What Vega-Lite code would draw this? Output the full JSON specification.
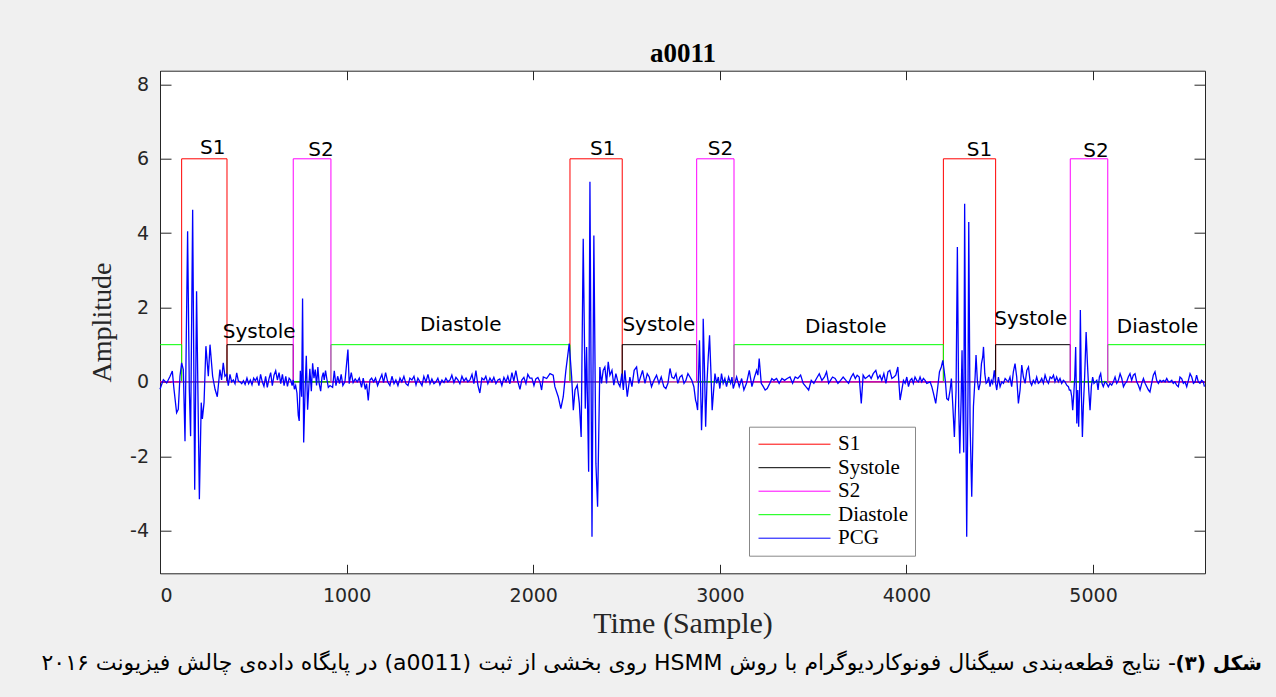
{
  "$schema": "https://vega.github.io/schema/vega-lite/v6.json",
  "width": 1045,
  "height": 502.6,
  "autosize": {"type": "none"},
  "padding": {"left": 160, "top": 70.7, "right": 71, "bottom": 123.7},
  "background": "#f0f0f0",
  "config": {
    "view": {"fill": "white", "stroke": null},
    "axis": {
      "grid": false,
      "domainColor": "#262626",
      "domainWidth": 1,
      "tickColor": "#262626",
      "tickWidth": 1,
      "labelFont": "DejaVu Sans",
      "labelFontSize": 19,
      "labelColor": "#262626",
      "titleFont": "Liberation Serif",
      "titleFontWeight": "normal",
      "titleColor": "#262626"
    }
  },
  "title": {
    "text": "\u202bشکل (۳)\u202c",
    "subtitle": "\u202b- نتایج قطعه\u200cبندی سیگنال فونوکاردیوگرام با روش HSMM روی بخشی از ثبت (a0011) در پایگاه داده\u200cی چالش فیزیونت ۲۰۱۶\u202c\u00a0\u00a0\u00a0\u00a0\u00a0\u00a0\u00a0\u00a0\u00a0\u00a0\u2800",
    "orient": "bottom",
    "anchor": "end",
    "frame": "group",
    "font": "DejaVu Sans",
    "fontSize": 20,
    "fontWeight": "bold",
    "color": "black",
    "subtitleFont": "DejaVu Sans",
    "subtitleFontSize": 22,
    "subtitleFontWeight": "normal",
    "subtitleColor": "black",
    "subtitlePadding": -21,
    "offset": 16,
    "dx": 57
  },
  "datasets": {
    "states": [
      {"t": 0, "v": 0, "s": "S1"}, {"t": 116, "v": 6, "s": "S1"}, {"t": 359, "v": 0, "s": "S1"}, {"t": 2197, "v": 6, "s": "S1"}, {"t": 2477, "v": 0, "s": "S1"}, {"t": 4198, "v": 6, "s": "S1"}, {"t": 4478, "v": 0, "s": "S1"}, {"t": 5600, "v": 0, "s": "S1"},
      {"t": 0, "v": 0, "s": "Systole"}, {"t": 359, "v": 1, "s": "Systole"}, {"t": 714, "v": 0, "s": "Systole"}, {"t": 2477, "v": 1, "s": "Systole"}, {"t": 2876, "v": 0, "s": "Systole"}, {"t": 4478, "v": 1, "s": "Systole"}, {"t": 4878, "v": 0, "s": "Systole"}, {"t": 5600, "v": 0, "s": "Systole"},
      {"t": 0, "v": 1, "s": "Diastole"}, {"t": 116, "v": 0, "s": "Diastole"}, {"t": 916, "v": 1, "s": "Diastole"}, {"t": 2197, "v": 0, "s": "Diastole"}, {"t": 3076, "v": 1, "s": "Diastole"}, {"t": 4198, "v": 0, "s": "Diastole"}, {"t": 5079, "v": 1, "s": "Diastole"}, {"t": 5600, "v": 1, "s": "Diastole"},
      {"t": 0, "v": 0, "s": "S2"}, {"t": 714, "v": 6, "s": "S2"}, {"t": 916, "v": 0, "s": "S2"}, {"t": 2876, "v": 6, "s": "S2"}, {"t": 3076, "v": 0, "s": "S2"}, {"t": 4878, "v": 6, "s": "S2"}, {"t": 5079, "v": 0, "s": "S2"}, {"t": 5600, "v": 0, "s": "S2"}
    ],
    "labels": [
      {"t": 214, "a": 6.12, "label": "S1"},
      {"t": 795, "a": 6.07, "label": "S2"},
      {"t": 336, "a": 1.17, "label": "Systole"},
      {"t": 1393, "a": 1.38, "label": "Diastole"},
      {"t": 2304, "a": 6.1, "label": "S1"},
      {"t": 2478, "a": 1.38, "label": "Systole"},
      {"t": 2935, "a": 6.1, "label": "S2"},
      {"t": 3457, "a": 1.32, "label": "Diastole"},
      {"t": 4323, "a": 6.07, "label": "S1"},
      {"t": 4471, "a": 1.53, "label": "Systole"},
      {"t": 4948, "a": 6.05, "label": "S2"},
      {"t": 5127, "a": 1.31, "label": "Diastole"}
    ],
    "pcg": [
      {"t":0,"a":-0.2},{"t":18,"a":0.06},{"t":36,"a":-0.03},{"t":54,"a":0.15},{"t":66,"a":0.29},{"t":75,"a":-0.2},{"t":89,"a":-0.83},{"t":98,"a":-0.74},{"t":107,"a":0.15},{"t":116,"a":0.51},
      {"t":125,"a":0.33},{"t":134,"a":-1.6},{"t":148,"a":4.05},{"t":157,"a":-0.2},{"t":164,"a":-1.46},{"t":175,"a":4.63},{"t":186,"a":-2.9},{"t":196,"a":2.44},{"t":211,"a":-3.16},{"t":221,"a":-0.56},{"t":227,"a":-1.0},{"t":236,"a":-0.56},{"t":246,"a":0.96},{"t":259,"a":0.15},{"t":268,"a":1.0},{"t":282,"a":0.15},{"t":295,"a":-0.2},{"t":307,"a":-0.4},{"t":321,"a":0.33},{"t":330,"a":0.05},{"t":339,"a":0.51},{"t":348,"a":0.15},{"t":357,"a":0.2},
      {"t":366,"a":-0.1},{"t":375,"a":0.2},{"t":384,"a":0.0},{"t":393,"a":0.05},{"t":402,"a":-0.05},{"t":411,"a":0.24},{"t":420,"a":0.02},{"t":429,"a":0.0},{"t":438,"a":-0.05},{"t":447,"a":0.03},{"t":456,"a":-0.07},{"t":466,"a":0.1},{"t":475,"a":-0.05},{"t":484,"a":0.05},{"t":493,"a":-0.08},{"t":502,"a":0.1},{"t":511,"a":0.03},{"t":520,"a":0.12},{"t":530,"a":-0.1},{"t":539,"a":0.2},{"t":548,"a":0.0},{"t":557,"a":-0.12},{"t":566,"a":0.15},{"t":575,"a":-0.15},{"t":584,"a":0.08},{"t":593,"a":0.25},{"t":602,"a":-0.1},{"t":611,"a":0.18},{"t":620,"a":0.3},{"t":629,"a":0.05},{"t":638,"a":0.25},{"t":647,"a":-0.05},{"t":656,"a":0.2},{"t":665,"a":-0.1},{"t":674,"a":0.15},{"t":683,"a":-0.12},{"t":692,"a":0.1},{"t":700,"a":0.05},{"t":708,"a":-0.1},
      {"t":714,"a":0.05},{"t":720,"a":-0.2},{"t":727,"a":-0.1},{"t":734,"a":-0.3},{"t":741,"a":-0.9},{"t":746,"a":-1.05},{"t":752,"a":0.3},{"t":759,"a":-0.4},{"t":764,"a":2.24},{"t":770,"a":-1.63},{"t":777,"a":-0.3},{"t":784,"a":0.7},{"t":791,"a":-0.75},{"t":798,"a":-0.1},{"t":803,"a":0.35},{"t":811,"a":-0.25},{"t":818,"a":0.5},{"t":825,"a":0.1},{"t":832,"a":0.33},{"t":839,"a":-0.1},{"t":846,"a":0.4},{"t":853,"a":-0.05},{"t":861,"a":-0.25},{"t":868,"a":0.12},{"t":875,"a":0.25},{"t":880,"a":0.05},{"t":887,"a":0.3},{"t":895,"a":0.05},{"t":902,"a":-0.15},{"t":911,"a":-0.1},
      {"t":925,"a":-0.15},{"t":934,"a":0.3},{"t":943,"a":-0.1},{"t":952,"a":0.15},{"t":962,"a":-0.05},{"t":971,"a":0.2},{"t":980,"a":-0.1},{"t":991,"a":0.0},{"t":1007,"a":0.87},{"t":1014,"a":-0.05},{"t":1025,"a":0.25},{"t":1035,"a":-0.02},{"t":1046,"a":0.08},{"t":1057,"a":0.0},{"t":1068,"a":0.1},{"t":1080,"a":-0.15},{"t":1089,"a":0.1},{"t":1100,"a":-0.2},{"t":1107,"a":-0.05},{"t":1116,"a":-0.5},{"t":1125,"a":0.05},{"t":1134,"a":0.1},{"t":1145,"a":0.0},{"t":1155,"a":0.1},{"t":1166,"a":-0.1},{"t":1177,"a":0.05},{"t":1189,"a":0.2},{"t":1198,"a":-0.02},{"t":1209,"a":0.25},{"t":1220,"a":0.0},{"t":1232,"a":-0.1},{"t":1243,"a":0.15},{"t":1254,"a":-0.05},{"t":1264,"a":0.05},{"t":1275,"a":-0.1},{"t":1286,"a":0.1},{"t":1296,"a":0.0},{"t":1307,"a":0.15},{"t":1318,"a":-0.05},{"t":1329,"a":-0.1},{"t":1339,"a":0.1},{"t":1350,"a":0.05},{"t":1361,"a":0.15},{"t":1372,"a":-0.08},{"t":1382,"a":0.1},{"t":1393,"a":0.0},{"t":1404,"a":-0.1},{"t":1414,"a":0.15},{"t":1425,"a":0.0},{"t":1436,"a":0.2},{"t":1447,"a":-0.05},{"t":1457,"a":0.08},{"t":1468,"a":-0.05},{"t":1479,"a":0.0},{"t":1489,"a":0.1},{"t":1500,"a":-0.08},{"t":1511,"a":0.05},{"t":1522,"a":-0.02},{"t":1532,"a":0.1},{"t":1543,"a":0.0},{"t":1554,"a":0.05},{"t":1564,"a":0.18},{"t":1575,"a":-0.02},{"t":1586,"a":0.12},{"t":1597,"a":0.05},{"t":1607,"a":-0.05},{"t":1618,"a":0.15},{"t":1629,"a":0.02},{"t":1640,"a":0.1},{"t":1650,"a":0.0},{"t":1661,"a":0.05},{"t":1672,"a":0.2},{"t":1682,"a":-0.05},{"t":1693,"a":0.3},{"t":1704,"a":-0.1},{"t":1714,"a":-0.3},{"t":1725,"a":0.1},{"t":1736,"a":0.05},{"t":1746,"a":0.15},{"t":1757,"a":-0.05},{"t":1768,"a":0.1},{"t":1779,"a":0.0},{"t":1789,"a":0.12},{"t":1800,"a":-0.05},{"t":1811,"a":0.05},{"t":1821,"a":0.08},{"t":1832,"a":-0.1},{"t":1843,"a":0.12},{"t":1854,"a":0.0},{"t":1864,"a":0.15},{"t":1875,"a":-0.05},{"t":1886,"a":0.25},{"t":1896,"a":0.02},{"t":1907,"a":0.3},{"t":1918,"a":0.0},{"t":1929,"a":-0.2},{"t":1939,"a":0.05},{"t":1950,"a":0.12},{"t":1961,"a":-0.05},{"t":1971,"a":0.2},{"t":1982,"a":0.1},{"t":1993,"a":0.1},{"t":2004,"a":-0.1},{"t":2014,"a":0.08},{"t":2025,"a":0.12},{"t":2036,"a":0.0},
      {"t":2045,"a":-0.22},{"t":2054,"a":0.13},{"t":2072,"a":0.09},{"t":2090,"a":0.22},{"t":2107,"a":0.18},{"t":2116,"a":-0.13},{"t":2134,"a":-0.4},{"t":2148,"a":-0.72},{"t":2161,"a":-0.4},{"t":2175,"a":0.31},{"t":2193,"a":1.03},
      {"t":2206,"a":0.13},{"t":2215,"a":-0.76},{"t":2224,"a":-0.22},{"t":2236,"a":-0.09},{"t":2247,"a":-0.58},{"t":2257,"a":-1.48},{"t":2268,"a":3.85},{"t":2279,"a":-0.72},{"t":2286,"a":0.94},{"t":2297,"a":-2.42},{"t":2304,"a":5.38},{"t":2315,"a":-4.17},{"t":2325,"a":3.94},{"t":2336,"a":-2.2},{"t":2345,"a":-3.36},{"t":2357,"a":0.4},{"t":2366,"a":-0.04},{"t":2375,"a":0.31},{"t":2384,"a":0.4},{"t":2393,"a":-0.04},{"t":2402,"a":0.54},{"t":2411,"a":0.18},{"t":2422,"a":0.31},{"t":2432,"a":-0.09},{"t":2443,"a":0.22},{"t":2456,"a":-0.04},{"t":2465,"a":-0.13},{"t":2475,"a":0.22},
      {"t":2483,"a":-0.22},{"t":2491,"a":0.31},{"t":2504,"a":-0.4},{"t":2518,"a":0.13},{"t":2529,"a":-0.13},{"t":2541,"a":0.31},{"t":2554,"a":0.4},{"t":2565,"a":-0.04},{"t":2575,"a":0.13},{"t":2586,"a":0.31},{"t":2599,"a":-0.04},{"t":2611,"a":0.22},{"t":2622,"a":0.13},{"t":2634,"a":-0.13},{"t":2647,"a":0.04},{"t":2661,"a":0.18},{"t":2674,"a":-0.04},{"t":2686,"a":0.13},{"t":2700,"a":-0.13},{"t":2711,"a":-0.18},{"t":2722,"a":-0.04},{"t":2733,"a":0.36},{"t":2743,"a":0.13},{"t":2754,"a":0.09},{"t":2765,"a":0.22},{"t":2775,"a":-0.04},{"t":2786,"a":0.13},{"t":2797,"a":0.18},{"t":2808,"a":-0.04},{"t":2818,"a":0.04},{"t":2829,"a":0.22},{"t":2840,"a":0.13},{"t":2850,"a":0.04},{"t":2861,"a":-0.13},{"t":2870,"a":-0.49},
      {"t":2875,"a":-0.58},{"t":2881,"a":-0.76},{"t":2886,"a":0.13},{"t":2891,"a":1.12},{"t":2897,"a":-0.13},{"t":2902,"a":-1.3},{"t":2908,"a":-0.4},{"t":2911,"a":1.7},{"t":2918,"a":0.31},{"t":2924,"a":-1.21},{"t":2931,"a":-0.04},{"t":2938,"a":0.67},{"t":2945,"a":1.25},{"t":2952,"a":0.31},{"t":2959,"a":-0.76},{"t":2967,"a":-0.22},{"t":2974,"a":0.22},{"t":2983,"a":-0.04},{"t":2992,"a":0.13},{"t":3000,"a":-0.18},{"t":3009,"a":0.22},{"t":3018,"a":-0.04},{"t":3027,"a":0.09},{"t":3036,"a":-0.13},{"t":3047,"a":0.13},{"t":3058,"a":-0.04},{"t":3065,"a":0.13},{"t":3072,"a":-0.18},
      {"t":3090,"a":0.13},{"t":3104,"a":-0.13},{"t":3117,"a":0.09},{"t":3129,"a":-0.22},{"t":3143,"a":-0.04},{"t":3158,"a":0.31},{"t":3172,"a":-0.13},{"t":3186,"a":0.13},{"t":3197,"a":0.31},{"t":3204,"a":0.18},{"t":3211,"a":0.63},{"t":3222,"a":-0.04},{"t":3233,"a":-0.13},{"t":3243,"a":-0.22},{"t":3254,"a":-0.18},{"t":3268,"a":-0.04},{"t":3279,"a":0.09},{"t":3290,"a":0.04},{"t":3304,"a":0.09},{"t":3318,"a":-0.04},{"t":3333,"a":0.09},{"t":3347,"a":0.04},{"t":3361,"a":0.09},{"t":3376,"a":0.13},{"t":3390,"a":-0.04},{"t":3404,"a":0.13},{"t":3418,"a":0.09},{"t":3433,"a":0.18},{"t":3447,"a":-0.04},{"t":3461,"a":-0.13},{"t":3476,"a":-0.22},{"t":3490,"a":0.04},{"t":3504,"a":-0.04},{"t":3518,"a":0.09},{"t":3533,"a":0.22},{"t":3547,"a":0.04},{"t":3561,"a":0.13},{"t":3572,"a":0.27},{"t":3583,"a":-0.04},{"t":3593,"a":0.04},{"t":3604,"a":0.13},{"t":3618,"a":0.09},{"t":3633,"a":-0.04},{"t":3647,"a":0.04},{"t":3661,"a":0.13},{"t":3676,"a":0.04},{"t":3690,"a":-0.04},{"t":3704,"a":0.13},{"t":3715,"a":0.22},{"t":3726,"a":0.09},{"t":3736,"a":0.18},{"t":3747,"a":0.13},{"t":3758,"a":-0.58},{"t":3768,"a":0.18},{"t":3779,"a":0.09},{"t":3790,"a":0.13},{"t":3801,"a":0.18},{"t":3811,"a":0.09},{"t":3822,"a":0.22},{"t":3836,"a":0.31},{"t":3847,"a":0.09},{"t":3858,"a":0.18},{"t":3868,"a":0.04},{"t":3879,"a":0.22},{"t":3890,"a":-0.04},{"t":3901,"a":0.27},{"t":3911,"a":0.31},{"t":3922,"a":0.09},{"t":3933,"a":0.13},{"t":3943,"a":0.18},{"t":3954,"a":0.4},{"t":3966,"a":-0.49},{"t":3984,"a":0.04},{"t":3993,"a":-0.04},{"t":4002,"a":0.13},{"t":4011,"a":-0.13},{"t":4020,"a":0.04},{"t":4029,"a":0.09},{"t":4037,"a":-0.04},{"t":4046,"a":0.13},{"t":4055,"a":0.04},{"t":4064,"a":0},{"t":4073,"a":0.13},{"t":4082,"a":0},{"t":4091,"a":0.09},{"t":4100,"a":0.04},{"t":4109,"a":-0.04},{"t":4127,"a":0},{"t":4136,"a":-0.13},{"t":4145,"a":-0.31},{"t":4157,"a":-0.58},{"t":4166,"a":-0.22},{"t":4177,"a":0.27},{"t":4187,"a":0.4},{"t":4195,"a":0.58},
      {"t":4202,"a":0.31},{"t":4209,"a":0},{"t":4216,"a":-0.45},{"t":4225,"a":-0.49},{"t":4234,"a":-0.22},{"t":4241,"a":0.09},{"t":4248,"a":-0.58},{"t":4257,"a":-1.48},{"t":4266,"a":-0.22},{"t":4273,"a":3.63},{"t":4280,"a":-0.67},{"t":4286,"a":-1.93},{"t":4293,"a":-0.49},{"t":4298,"a":0.85},{"t":4304,"a":-1.1},{"t":4307,"a":-1.9},{"t":4312,"a":4.79},{"t":4318,"a":-0.67},{"t":4323,"a":-4.17},{"t":4330,"a":-0.22},{"t":4334,"a":4.3},{"t":4341,"a":-1.1},{"t":4350,"a":-3.09},{"t":4359,"a":-0.67},{"t":4368,"a":0.13},{"t":4373,"a":0.72},{"t":4380,"a":0.04},{"t":4387,"a":-0.22},{"t":4395,"a":-0.04},{"t":4402,"a":0.49},{"t":4409,"a":0.67},{"t":4413,"a":0.94},{"t":4420,"a":0.22},{"t":4427,"a":-0.04},{"t":4434,"a":0},{"t":4441,"a":0.13},{"t":4448,"a":-0.13},{"t":4455,"a":0.04},{"t":4462,"a":-0.04},{"t":4471,"a":0.31},{"t":4478,"a":-0.04},
      {"t":4484,"a":-0.22},{"t":4493,"a":0.13},{"t":4502,"a":-0.13},{"t":4511,"a":0},{"t":4520,"a":-0.04},{"t":4529,"a":0.09},{"t":4538,"a":0.04},{"t":4546,"a":0},{"t":4555,"a":0.13},{"t":4564,"a":-0.13},{"t":4573,"a":0.27},{"t":4582,"a":0.49},{"t":4591,"a":0.13},{"t":4600,"a":-0.58},{"t":4609,"a":-0.22},{"t":4618,"a":0.45},{"t":4627,"a":0.13},{"t":4636,"a":-0.04},{"t":4645,"a":0.31},{"t":4654,"a":0.4},{"t":4663,"a":0},{"t":4671,"a":-0.09},{"t":4680,"a":0.04},{"t":4689,"a":-0.04},{"t":4698,"a":0.13},{"t":4707,"a":-0.04},{"t":4716,"a":0},{"t":4725,"a":0.09},{"t":4734,"a":-0.04},{"t":4743,"a":0.18},{"t":4752,"a":0.04},{"t":4761,"a":-0.04},{"t":4770,"a":0.13},{"t":4779,"a":0.09},{"t":4788,"a":0.18},{"t":4796,"a":0},{"t":4805,"a":0.13},{"t":4814,"a":0},{"t":4823,"a":0.09},{"t":4832,"a":-0.04},{"t":4841,"a":0.04},{"t":4850,"a":0},{"t":4859,"a":-0.09},{"t":4868,"a":-0.13},{"t":4873,"a":-0.22},
      {"t":4880,"a":-0.22},{"t":4886,"a":-0.4},{"t":4891,"a":-0.76},{"t":4896,"a":-0.4},{"t":4902,"a":0.13},{"t":4907,"a":0.94},{"t":4913,"a":-1.12},{"t":4918,"a":-0.22},{"t":4923,"a":-1.21},{"t":4929,"a":-0.04},{"t":4932,"a":1.93},{"t":4938,"a":-0.4},{"t":4943,"a":-1.48},{"t":4948,"a":-0.67},{"t":4955,"a":0.13},{"t":4963,"a":1.34},{"t":4970,"a":0.49},{"t":4977,"a":-0.22},{"t":4984,"a":-0.76},{"t":4991,"a":-0.13},{"t":4998,"a":0.13},{"t":5005,"a":-0.04},{"t":5013,"a":0},{"t":5020,"a":0.04},{"t":5027,"a":-0.22},{"t":5034,"a":0.13},{"t":5041,"a":0.22},{"t":5048,"a":-0.04},{"t":5055,"a":-0.13},{"t":5064,"a":0},{"t":5073,"a":-0.04},
      {"t":5082,"a":-0.13},{"t":5091,"a":-0.04},{"t":5100,"a":-0.09},{"t":5109,"a":0},{"t":5118,"a":0.13},{"t":5127,"a":-0.04},{"t":5136,"a":0.04},{"t":5145,"a":0.22},{"t":5154,"a":0.09},{"t":5163,"a":-0.13},{"t":5172,"a":-0.04},{"t":5180,"a":0},{"t":5189,"a":0.13},{"t":5198,"a":0.22},{"t":5207,"a":0.04},{"t":5216,"a":0.18},{"t":5225,"a":0.22},{"t":5234,"a":0},{"t":5243,"a":-0.09},{"t":5252,"a":-0.22},{"t":5261,"a":-0.04},{"t":5270,"a":0.09},{"t":5279,"a":-0.04},{"t":5288,"a":-0.13},{"t":5297,"a":-0.22},{"t":5305,"a":-0.27},{"t":5314,"a":-0.04},{"t":5323,"a":0.18},{"t":5332,"a":0.27},{"t":5341,"a":0.04},{"t":5350,"a":-0.04},{"t":5359,"a":0.04},{"t":5368,"a":0},{"t":5377,"a":0.04},{"t":5386,"a":0},{"t":5395,"a":0.09},{"t":5404,"a":0},{"t":5413,"a":0},{"t":5422,"a":0.04},{"t":5430,"a":-0.04},{"t":5439,"a":0},{"t":5448,"a":-0.09},{"t":5457,"a":-0.13},{"t":5466,"a":0.13},{"t":5475,"a":0.09},{"t":5484,"a":-0.04},{"t":5493,"a":0},{"t":5502,"a":-0.13},{"t":5511,"a":0.04},{"t":5520,"a":0.22},{"t":5529,"a":0.13},{"t":5538,"a":-0.04},{"t":5547,"a":0},{"t":5555,"a":0.18},{"t":5564,"a":0},{"t":5573,"a":-0.04},{"t":5582,"a":0.04},{"t":5591,"a":0},{"t":5597,"a":-0.13}
    ]
  },
  "layer": [
    {
      "data": {"name": "states"},
      "transform": [{"filter": "datum.s !== 'S2'"}],
      "mark": {"type": "line", "interpolate": "step-after", "strokeWidth": 1},
      "encoding": {
        "x": {
          "field": "t", "type": "quantitative",
          "scale": {"domain": [0, 5600], "nice": false, "zero": false},
          "axis": {"orient": "bottom", "values": [0, 1000, 2000, 3000, 4000, 5000], "format": "d", "tickSize": -9, "labelPadding": 22, "title": "Time (Sample)", "titleFontSize": 30, "titlePadding": 3}
        },
        "y": {
          "field": "v", "type": "quantitative",
          "scale": {"domain": [-5.15, 8.37], "nice": false, "zero": false},
          "axis": {"orient": "left", "values": [-4, -2, 0, 2, 4, 6, 8], "labelExpr": "'' + datum.value", "tickSize": -11, "labelPadding": 22.5, "title": "Amplitude", "titleFontSize": 28, "titlePadding": 13}
        },
        "color": {
          "field": "s", "type": "nominal",
          "scale": {"domain": ["S1", "Systole", "S2", "Diastole", "PCG"], "range": ["#ff0000", "#000000", "#ff00ff", "#00ff00", "#0000ff"]},
          "legend": {
            "orient": "none", "legendX": 589, "legendY": 356, "title": null,
            "symbolType": "M-4.5,0H4.5", "symbolSize": 256, "symbolStrokeWidth": 1, "symbolOffset": 28,
            "labelFont": "Liberation Serif", "labelFontSize": 21, "labelColor": "black",
            "fillColor": "white", "strokeColor": "#888888", "padding": 7, "rowPadding": 1.5, "labelOffset": 33
          }
        }
      }
    },
    {
      "data": {"name": "states"},
      "transform": [{"filter": "datum.s === 'S2'"}],
      "mark": {"type": "line", "interpolate": "step-after", "strokeWidth": 1},
      "encoding": {
        "x": {"field": "t", "type": "quantitative", "scale": {"domain": [0, 5600], "nice": false, "zero": false}, "axis": null},
        "y": {"field": "v", "type": "quantitative", "scale": {"domain": [-5.15, 8.37], "nice": false, "zero": false}, "axis": null},
        "color": {"field": "s", "type": "nominal"}
      }
    },
    {
      "data": {"name": "pcg"},
      "mark": {"type": "line", "strokeWidth": 1.3},
      "encoding": {
        "x": {
          "field": "t", "type": "quantitative",
          "scale": {"domain": [0, 5600], "nice": false, "zero": false},
          "axis": {"orient": "top", "values": [0, 1000, 2000, 3000, 4000, 5000], "labels": false, "tickSize": -9, "title": "a0011", "titleFont": "Liberation Serif", "titleFontWeight": "bold", "titleFontSize": 27, "titleColor": "black", "titleBaseline": "alphabetic", "titlePadding": 9}
        },
        "y": {
          "field": "a", "type": "quantitative",
          "scale": {"domain": [-5.15, 8.37], "nice": false, "zero": false},
          "axis": {"orient": "right", "values": [-4, -2, 0, 2, 4, 6, 8], "labels": false, "tickSize": -11, "title": null}
        },
        "color": {"datum": "PCG"}
      }
    },
    {
      "data": {"name": "labels"},
      "mark": {"type": "text", "align": "left", "baseline": "alphabetic", "font": "DejaVu Sans", "fontSize": 20, "color": "black"},
      "encoding": {
        "x": {"field": "t", "type": "quantitative", "axis": null},
        "y": {"field": "a", "type": "quantitative", "axis": null},
        "text": {"field": "label"}
      }
    }
  ],
  "resolve": {"axis": {"x": "independent", "y": "independent"}}
}
